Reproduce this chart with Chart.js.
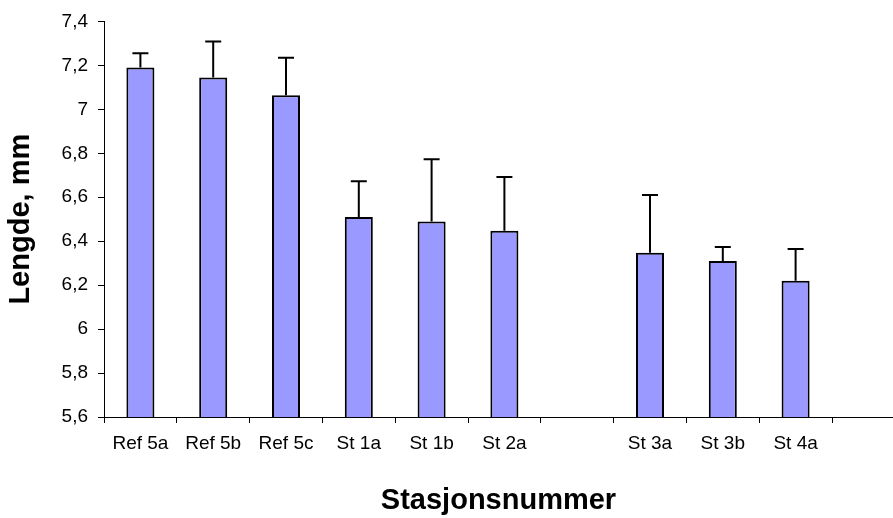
<!DOCTYPE html>
<html>
<head>
<meta charset="utf-8">
<script src="https://cdn.jsdelivr.net/npm/chart.js@4"></script>
<style>
  body { margin: 0; background: #fff; }
  #wrap { width: 893px; height: 518px; }
</style>
</head>
<body>
<div id="wrap"><canvas id="lengdeChart"></canvas></div>
<script>
// stasjoner, tom kategori mellom St 2a og St 3a
const stasjoner = ["Ref 5a", "Ref 5b", "Ref 5c", "St 1a", "St 1b", "St 2a", "", "St 3a", "St 3b", "St 4a"];
const lengde = [7.19, 7.145, 7.064, 6.51, 6.49, 6.447, null, 6.347, 6.31, 6.22];
const stdAvvik = [0.065, 0.163, 0.171, 0.163, 0.283, 0.245, null, 0.263, 0.064, 0.144];
const yTicks = [5.6, 5.8, 6, 6.2, 6.4, 6.6, 6.8, 7, 7.2, 7.4];

const fmt = v => String(Number(v.toFixed(1))).replace(".", ",");

// feilstolper (kun opp)
const feilstolper = {
  id: "feilstolper",
  afterDatasetsDraw(chart) {
    const ctx = chart.ctx, y = chart.scales.y;
    const meta = chart.getDatasetMeta(0);
    ctx.save();
    ctx.strokeStyle = "#000";
    ctx.lineWidth = 2;
    meta.data.forEach((bar, i) => {
      if (lengde[i] == null) return;
      const y0 = y.getPixelForValue(lengde[i]);
      const y1 = y.getPixelForValue(lengde[i] + stdAvvik[i]);
      ctx.beginPath();
      ctx.moveTo(bar.x, y0);
      ctx.lineTo(bar.x, y1);
      ctx.moveTo(bar.x - 8, y1);
      ctx.lineTo(bar.x + 8, y1);
      ctx.stroke();
    });
    ctx.restore();
  }
};

// x-akse linje fortsetter til kanten, og aksetittel
const aksePynt = {
  id: "aksePynt",
  afterDraw(chart) {
    const ctx = chart.ctx, a = chart.chartArea;
    ctx.save();
    ctx.strokeStyle = "#000";
    ctx.lineWidth = 1;
    ctx.beginPath();
    ctx.moveTo(a.right, a.bottom + 0.5);
    ctx.lineTo(chart.width, a.bottom + 0.5);
    ctx.stroke();
    ctx.fillStyle = "#000";
    ctx.font = "bold 29px Arial, 'Liberation Sans'";
    ctx.textAlign = "center";
    ctx.textBaseline = "middle";
    ctx.fillText("Stasjonsnummer", (a.left + chart.width) / 2, 501);
    ctx.restore();
  }
};

new Chart(document.getElementById("lengdeChart"), {
  type: "bar",
  data: {
    labels: stasjoner,
    datasets: [{
      data: lengde,
      backgroundColor: "#9999ff",
      borderColor: "#000",
      borderWidth: 2,
      borderSkipped: false,
      barPercentage: 0.385,
      categoryPercentage: 1
    }]
  },
  options: {
    responsive: true,
    maintainAspectRatio: false,
    animation: false,
    layout: { padding: { top: 21, right: 61, left: 0, bottom: 0 } },
    plugins: { legend: { display: false }, tooltip: { enabled: false } },
    scales: {
      x: {
        border: { color: "#000", width: 1 },
        grid: { drawOnChartArea: false, color: "#000", tickLength: 6, offset: true },
        ticks: { color: "#000", font: { family: "Arial, 'Liberation Sans'", size: 19 }, padding: 9, maxRotation: 0, autoSkip: false },
        afterFit(s) { s.height = 101; }
      },
      y: {
        min: 5.6,
        max: 7.4,
        afterBuildTicks(s) { s.ticks = yTicks.map(v => ({ value: v })); },
        border: { color: "#000", width: 1 },
        grid: { drawOnChartArea: false, color: "#000", tickLength: 6 },
        ticks: { color: "#000", font: { family: "Arial, 'Liberation Sans'", size: 19 }, padding: 10, callback: v => fmt(v) },
        title: { display: true, text: "Lengde, mm", color: "#000", font: { family: "Arial, 'Liberation Sans'", size: 29, weight: "bold" }, padding: { top: 4, bottom: 0 } },
        afterFit(s) { s.width = 104; }
      }
    }
  },
  plugins: [feilstolper, aksePynt]
});
</script>
</body>
</html>
